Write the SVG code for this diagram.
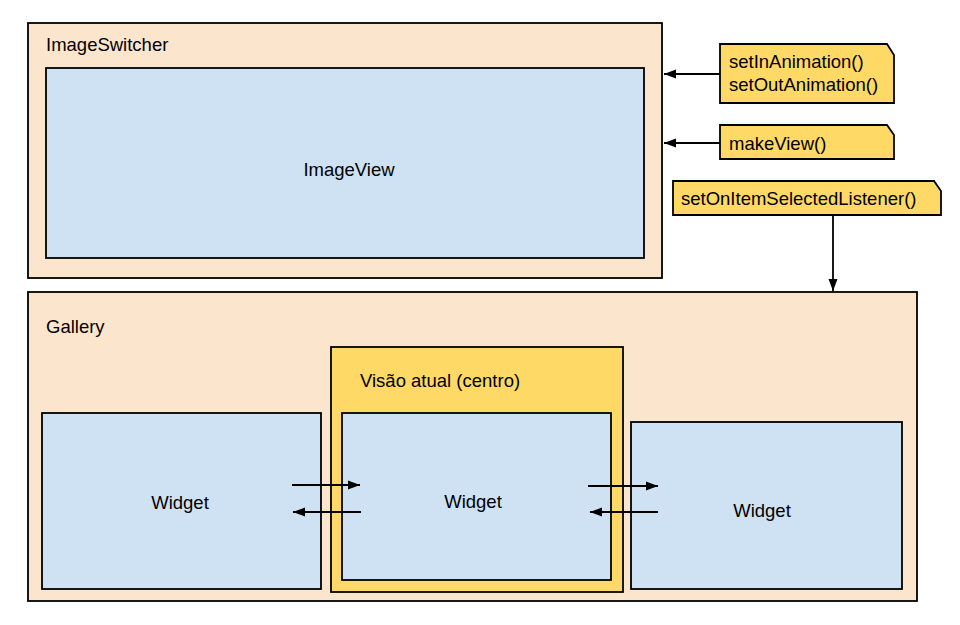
<svg xmlns="http://www.w3.org/2000/svg" width="960" height="625" viewBox="0 0 960 625">
<style>
.box{stroke:#000;stroke-width:1.8}
.outer{fill:#fce5cd}
.blue{fill:#cfe2f3}
.yellow{fill:#ffd966}
text{font-family:"Liberation Sans",Arial,sans-serif;font-size:18.5px;fill:#000}
.c{text-anchor:middle}
.conn{stroke:#000;stroke-width:1.8;fill:none;marker-end:url(#ah)}
</style>
<defs>
<marker id="ah" viewBox="0 0 12 10" refX="12" refY="5" markerWidth="12" markerHeight="10" markerUnits="userSpaceOnUse" orient="auto">
<path d="M0,0.5 L12,5 L0,9.5 Z" fill="#000"/>
</marker>
</defs>
<rect width="960" height="625" fill="#fff"/>
<g id="imageswitcher">
<rect class="box outer" x="28" y="23" width="634" height="255"/>
<text x="46" y="51">ImageSwitcher</text>
</g>
<g id="imageview">
<rect class="box blue" x="46" y="68" width="598" height="190"/>
<text class="c" x="349" y="176">ImageView</text>
</g>
<g id="note-animation">
<path class="box yellow" d="M720,44 H887 L894,55 V103 H720 Z"/>
<text x="729" y="68">setInAnimation()</text>
<text x="729" y="91">setOutAnimation()</text>
</g>
<g id="note-makeview">
<path class="box yellow" d="M720,125 H887 L894,135 V159 H720 Z"/>
<text x="729" y="150">makeView()</text>
</g>
<g id="note-listener">
<path class="box yellow" d="M673,181 H934 L941,191 V215 H673 Z"/>
<text x="681" y="205">setOnItemSelectedListener()</text>
</g>
<g id="gallery">
<rect class="box outer" x="28" y="292" width="889" height="309"/>
<text x="46" y="333">Gallery</text>
</g>
<g id="current-view">
<rect class="box yellow" x="331" y="347" width="292" height="245"/>
<text x="360" y="387">Visão atual (centro)</text>
</g>
<g id="widget-left">
<rect class="box blue" x="42" y="413" width="279" height="176"/>
<text class="c" x="180" y="509">Widget</text>
</g>
<g id="widget-center">
<rect class="box blue" x="342" y="413" width="269" height="167"/>
<text class="c" x="473" y="508">Widget</text>
</g>
<g id="widget-right">
<rect class="box blue" x="631" y="422" width="271" height="167"/>
<text class="c" x="762" y="517">Widget</text>
</g>
<g id="connectors">
<path class="conn" d="M720,74 H664"/>
<path class="conn" d="M720,143 H664"/>
<path class="conn" d="M833,215 V291"/>
<path class="conn" d="M292,485 H360"/>
<path class="conn" d="M361,512 H293"/>
<path class="conn" d="M588,486 H658"/>
<path class="conn" d="M658,512 H590"/>
</g>
</svg>
